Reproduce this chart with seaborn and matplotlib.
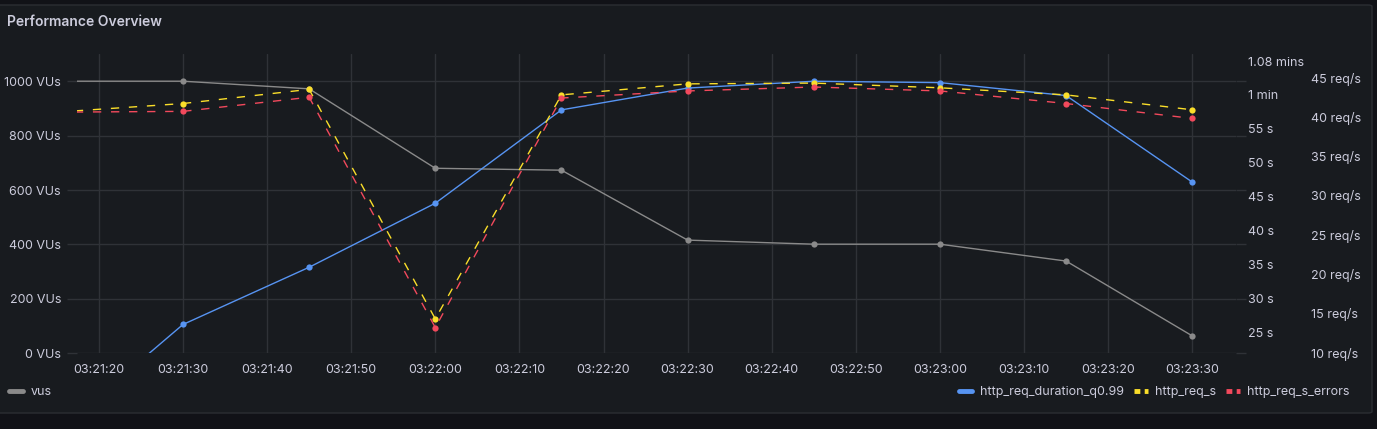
import seaborn as sns
import matplotlib.pyplot as plt
import pandas as pd
from matplotlib.lines import Line2D
from matplotlib.patches import FancyBboxPatch

# Data (15 s scrape interval)
times = ["03:21:15", "03:21:30", "03:21:45", "03:22:00", "03:22:15",
         "03:22:30", "03:22:45", "03:23:00", "03:23:15", "03:23:30"]
vus = [1000, 1000, 972, 680, 673, 416, 401, 401, 339, 64]
req_duration_q99 = [10.4, 26.2, 34.6, 44.0, 57.7, 60.9, 61.9, 61.7, 59.8, 47.1]  # seconds
req_s = [40.6, 41.7, 43.5, 14.3, 42.8, 44.2, 44.3, 43.7, 42.8, 40.9]
req_s_errors = [40.6, 40.7, 42.5, 13.2, 42.4, 43.3, 43.8, 43.3, 41.7, 39.8]

x_ticks = ["03:21:20", "03:21:30", "03:21:40", "03:21:50", "03:22:00", "03:22:10",
           "03:22:20", "03:22:30", "03:22:40", "03:22:50", "03:23:00", "03:23:10",
           "03:23:20", "03:23:30"]
vus_ticks = [0, 200, 400, 600, 800, 1000]
sec_ticks = [25, 30, 35, 40, 45, 50, 55, 60, 64.8]
sec_labels = ["25 s", "30 s", "35 s", "40 s", "45 s", "50 s", "55 s", "1 min", "1.08 mins"]
rps_ticks = [10, 15, 20, 25, 30, 35, 40, 45]

day = "2024-01-01 "
df = pd.DataFrame({
    "time": pd.to_datetime([day + t for t in times]),
    "vus": vus,
    "duration": req_duration_q99,
    "req_s": req_s,
    "errors": req_s_errors,
})

# Grafana dark theme colours
outer_bg = "#111217"
panel_bg = "#181b1f"
border = "#2b2e33"
grid = "#2f3237"
text = "#ccccdc"
c_gray = "#8a8a8a"
c_blue = "#5794f2"
c_yellow = "#fade2a"
c_red = "#f2495c"

sns.set_theme(style="dark")
plt.rcParams["font.family"] = ["Inter", "DejaVu Sans"]

W, H = 1377, 429
fig = plt.figure(figsize=(W / 100, H / 100), dpi=100, facecolor=outer_bg)

# panel card
fig.patches.append(FancyBboxPatch((-6 / W, 1 - 413 / H), 1378 / W, 408 / H,
                                  boxstyle="round,pad=0,rounding_size=0.003",
                                  transform=fig.transFigure, facecolor=panel_bg,
                                  edgecolor=border, linewidth=1, zorder=-5))

left, right, top, bottom = 77, 1236, 54, 353.3
ax = fig.add_axes([left / W, 1 - bottom / H, (right - left) / W, (bottom - top) / H])
ax.set_facecolor("none")
ax2 = ax.twinx()
ax3 = ax.twinx()

sns.lineplot(data=df, x="time", y="vus", ax=ax, color=c_gray, lw=1.0,
             marker="o", markersize=4.5, markeredgewidth=0, legend=False)
sns.lineplot(data=df, x="time", y="duration", ax=ax2, color=c_blue, lw=1.0,
             marker="o", markersize=4.5, markeredgewidth=0, legend=False)
sns.lineplot(data=df, x="time", y="req_s", ax=ax3, color=c_yellow, lw=1.0,
             linestyle=(0, (6, 7)), marker="o", markersize=4.5, markeredgewidth=0,
             legend=False)
sns.lineplot(data=df, x="time", y="errors", ax=ax3, color=c_red, lw=1.0,
             linestyle=(0, (6, 7)), marker="o", markersize=4.5, markeredgewidth=0,
             legend=False)

xt = pd.to_datetime([day + t for t in x_ticks])
ax.set_xticks(xt)
ax.set_xticklabels(x_ticks)
ax.set_xlim(pd.Timestamp(day + "03:21:17.4"), pd.Timestamp(day + "03:23:35.2"))

ax.set_ylim(0, 1100)
ax.set_yticks(vus_ticks)
ax.set_yticklabels([f"{v} VUs" for v in vus_ticks])
ax2.set_ylim(21.97, 65.9)
ax2.set_yticks(sec_ticks)
ax2.set_yticklabels(sec_labels)
ax3.set_ylim(9.92, 48.0)
ax3.set_yticks(rps_ticks)
ax3.set_yticklabels([f"{v} req/s" for v in rps_ticks])

for a in (ax, ax2, ax3):
    a.set_xlabel("")
    a.set_ylabel("")
    for s in a.spines.values():
        s.set_visible(False)

ax.grid(True, color=grid, linewidth=1)
ax2.grid(False)
ax3.grid(False)
ax.set_axisbelow(True)

ax.tick_params(axis="x", colors=text, labelsize=9, length=4, color=grid, pad=4, width=1)
ax.tick_params(axis="y", colors=text, labelsize=9, left=True, right=True,
               length=7, color=grid, pad=4.5, width=1)
ax2.tick_params(axis="y", colors=text, labelsize=9, length=0, pad=8.5)
ax3.tick_params(axis="y", colors=text, labelsize=9, length=0, pad=54)
for lbl in ax.get_yticklabels():
    lbl.set_color(text)

fig.text(7 / W, 1 - 22 / H, "Performance Overview", color=text, fontsize=10,
         fontweight="semibold", va="center", ha="left")

def bar(color, dashed=False):
    if dashed:
        return Line2D([0], [0], color=color, lw=3.5, linestyle=(0, (1.2, 0.9)))
    return Line2D([0], [0], color=color, lw=3.5, solid_capstyle="round")

leg_kw = dict(frameon=False, fontsize=9, labelcolor=text, handlelength=1.1,
              handletextpad=0.6, borderaxespad=0, borderpad=0)
fig.legend([bar(c_gray)], ["vus"], loc="center left",
           bbox_to_anchor=(9 / W, 1 - 392 / H), **leg_kw)
fig.legend([bar(c_blue), bar(c_yellow, True), bar(c_red, True)],
           ["http_req_duration_q0.99", "http_req_s", "http_req_s_errors"],
           loc="center right", ncol=3, columnspacing=0.8,
           bbox_to_anchor=(1350 / W, 1 - 392 / H), **leg_kw)

fig.savefig("out.png", dpi=100, facecolor=outer_bg)
